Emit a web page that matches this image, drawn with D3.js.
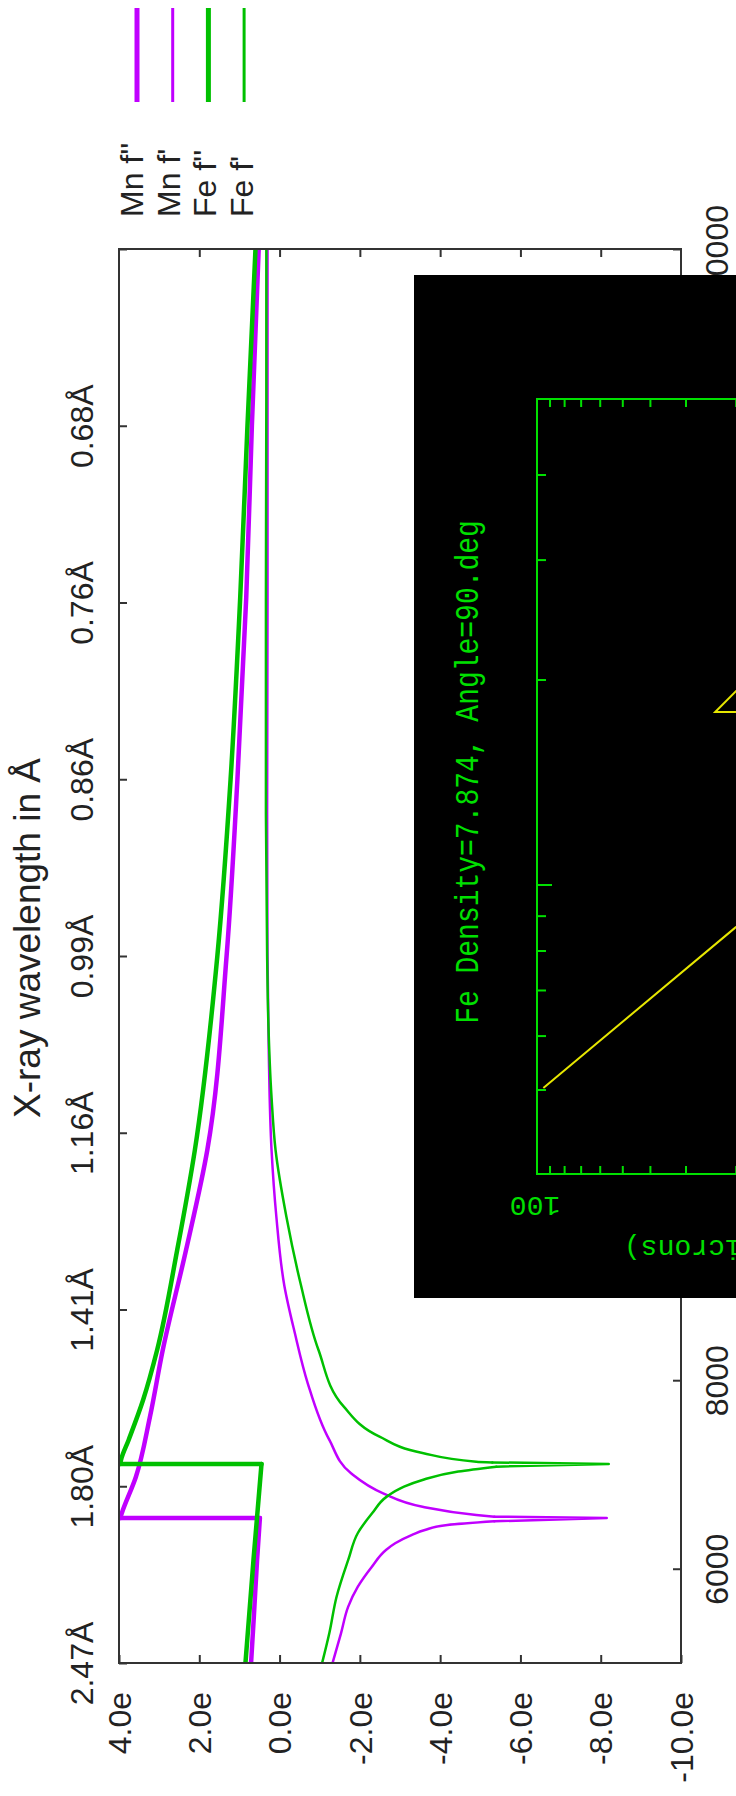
<!DOCTYPE html>
<html>
<head>
<meta charset="utf-8">
<script src="https://cdn.jsdelivr.net/npm/d3@7"></script>
<style>
  body { margin: 0; background: #fff; }
  svg { display: block; }
</style>
</head>
<body>
<div id="chart"></div>
<script>
// energy (eV) vs anomalous scattering factor (electrons)
const mnF2 = [[5000,0.71],[5500,0.64],[6093,0.56],[6539,0.49],[6539,3.97],[6602,3.92],[6973,3.58],[7610,3.23],[8320,2.91],[9381,2.33],[10442,1.80],[12500,1.32],[14375,1.05],[16308,0.83],[18125,0.69],[20000,0.52]];
const mnF1 = [[5000,-1.32],[5315,-1.53],[5598,-1.71],[5810,-1.95],[6022,-2.30],[6199,-2.65],[6270,-2.88],[6360,-3.30],[6411,-3.62],[6464,-4.18],[6503,-5.35],[6539,-8.15],[6552,-5.35],[6570,-4.90],[6658,-3.56],[6800,-2.58],[7012,-1.78],[7366,-1.24],[7970,-0.70],[8500,-0.38],[9000,-0.12],[9734,0.08],[10442,0.20],[11500,0.27],[12500,0.30],[14000,0.31],[16300,0.30],[18400,0.30],[20000,0.30]];
const feF2 = [[5000,0.85],[6093,0.65],[7112,0.45],[7112,3.97],[7154,3.95],[7366,3.76],[7790,3.40],[8320,3.05],[9381,2.55],[10442,2.11],[12500,1.55],[14375,1.22],[16308,0.98],[18125,0.80],[20000,0.60]];
const feF1 = [[5000,-1.06],[5318,-1.24],[5703,-1.42],[6093,-1.71],[6379,-1.95],[6591,-2.31],[6765,-2.67],[6871,-3.10],[6942,-3.56],[7031,-4.45],[7083,-5.40],[7112,-8.20],[7128,-5.30],[7136,-4.90],[7228,-3.56],[7401,-2.49],[7719,-1.60],[8320,-0.97],[9031,-0.52],[9734,-0.17],[10442,0.10],[11000,0.20],[11800,0.28],[12500,0.31],[14000,0.34],[16300,0.34],[18400,0.33],[20000,0.33]];

const seriesNames = ["Mn f''", "Mn f'", "Fe f''", "Fe f'"];
const seriesData = [mnF2, mnF1, feF2, feF1];
const seriesColors = ['#c000ff', '#c000ff', '#00c000', '#00c000'];
const seriesWidths = [4.5, 2.5, 4.5, 2.5];

const fTicks = [4, 2, 0, -2, -4, -6, -8, -10];
const fLabels = ['4.0e', '2.0e', '0.0e', '-2.0e', '-4.0e', '-6.0e', '-8.0e', '-10.0e'];
const energyTicks = [6000, 8000, 10000, 12000, 14000, 16000, 18000, 20000];
const lambdaTicks = [5000, 6875, 8750, 10625, 12500, 14375, 16250, 18125, 20000];
const lambdaLabels = ['2.47Å', '1.80Å', '1.41Å', '1.16Å', '0.99Å', '0.86Å', '0.76Å', '0.68Å', ''];

// inset picture (attenuation length plot)
const insetTitle = 'Fe Density=7.874, Angle=90.deg';
const insetAttenTicks = [90, 80, 70, 60, 50, 40, 30, 20];
const insetEnergyTicks = [5000, 6000, 7000, 8000, 9000, 10000, 20000, 30000, 40000];
const insetTrace1 = [[5035,95],[8650,20.2],[9500,15.3]];
const insetTrace2 = [[17950,15],[17950,23.7],[20900,16.5]];

const W = 736, H = 1796;
const box = { left: 119, right: 681, top: 249, bottom: 1663 };
const font = '"Liberation Sans", Arial, sans-serif';
const ink = '#222';

const svg = d3.select('#chart').append('svg')
  .attr('width', W).attr('height', H)
  .style('background', '#fff');

const yE = d3.scaleLinear().domain([5000, 20000]).range([box.bottom, box.top]);
const xF = d3.scaleLinear().domain([4, -10]).range([box.left, box.right]);

function styleAxis(g) {
  g.select('.domain').remove();
  g.attr('font-size', 32).attr('font-family', font).attr('color', '#333');
  g.selectAll('line').attr('stroke-width', 2);
  g.selectAll('text').attr('fill', ink).attr('x', 0).attr('y', 0).attr('dy', '0.35em');
}

// bottom: f values
const axB = svg.append('g').attr('transform', `translate(0,${box.bottom})`)
  .call(d3.axisBottom(xF).tickValues(fTicks).tickFormat((d, i) => fLabels[i]).tickSizeInner(-8).tickSizeOuter(0));
styleAxis(axB);
axB.selectAll('text').attr('text-anchor', 'end').attr('transform', 'translate(0,29) rotate(-90)');

// top mirror ticks
const axT = svg.append('g').attr('transform', `translate(0,${box.top})`)
  .call(d3.axisTop(xF).tickValues(fTicks.slice(1, -1)).tickFormat('').tickSizeInner(-8).tickSizeOuter(0));
styleAxis(axT);

// left: wavelength
const axL = svg.append('g').attr('transform', `translate(${box.left},0)`)
  .call(d3.axisLeft(yE).tickValues(lambdaTicks).tickFormat((d, i) => lambdaLabels[i]).tickSizeInner(-8).tickSizeOuter(0));
styleAxis(axL);
axL.selectAll('text').attr('text-anchor', 'middle').attr('transform', 'translate(-37,0) rotate(-90)');

// right: energy
const axR = svg.append('g').attr('transform', `translate(${box.right},0)`)
  .call(d3.axisRight(yE).tickValues(energyTicks).tickFormat(d3.format('d')).tickSizeInner(-8).tickSizeOuter(0));
styleAxis(axR);
axR.selectAll('text').attr('text-anchor', 'middle').attr('transform', 'translate(36,0) rotate(-90)');

// axis title
svg.append('text')
  .attr('transform', 'translate(27,938) rotate(-90)')
  .attr('dy', '0.35em')
  .attr('text-anchor', 'middle')
  .attr('font-family', font).attr('font-size', 37).attr('fill', ink)
  .text('X-ray wavelength in Å');

// curves: smooth on each side of the absorption edge, straight across it
function pieces(data) {
  let k = data.findIndex((d, i) => i > 0 && d[0] === data[i - 1][0]);
  if (k > 0) {
    return [
      { pts: data.slice(0, k), smooth: true },
      { pts: [data[k - 1], data[k]], smooth: false },
      { pts: data.slice(k), smooth: true }
    ];
  }
  k = d3.minIndex(data, d => d[1]);
  return [
    { pts: data.slice(0, k), smooth: true },
    { pts: data.slice(k - 1, k + 2), smooth: false },
    { pts: data.slice(k + 1), smooth: true }
  ];
}

svg.append('clipPath').attr('id', 'plotclip')
  .append('rect')
  .attr('x', box.left).attr('y', box.top)
  .attr('width', box.right - box.left).attr('height', box.bottom - box.top);

const smoothLine = d3.line().x(d => xF(d[1])).y(d => yE(d[0])).curve(d3.curveMonotoneY);
const straightLine = d3.line().x(d => xF(d[1])).y(d => yE(d[0]));

const curves = svg.append('g').attr('clip-path', 'url(#plotclip)');
seriesData.forEach((data, i) => {
  curves.append('g')
    .selectAll('path')
    .data(pieces(data))
    .join('path')
    .attr('d', p => (p.smooth ? smoothLine : straightLine)(p.pts))
    .attr('fill', 'none')
    .attr('stroke', seriesColors[i])
    .attr('stroke-width', seriesWidths[i])
    .attr('stroke-linejoin', 'round')
    .attr('stroke-linecap', 'round');
});

// frame
svg.append('rect')
  .attr('x', box.left).attr('y', box.top)
  .attr('width', box.right - box.left).attr('height', box.bottom - box.top)
  .attr('fill', 'none').attr('stroke', '#333').attr('stroke-width', 2);

// legend
const legend = svg.append('g');
seriesNames.forEach((name, i) => {
  legend.append('line')
    .attr('x1', 137 + i * 35.7).attr('x2', 137 + i * 35.7)
    .attr('y1', 8).attr('y2', 102)
    .attr('stroke', seriesColors[i]).attr('stroke-width', seriesWidths[i] + 0.5);
  legend.append('text')
    .attr('transform', `translate(${143 + i * 36.7},217) rotate(-90)`)
    .attr('font-family', font).attr('font-size', 32).attr('fill', ink)
    .text(name);
});

// inset: black picture with its own plot
const inset = svg.append('g');
const iBox = { left: 414, top: 275, bottom: 1298 };
const iFrame = { left: 537, top: 399, bottom: 1174, right: 760 };
const iGreen = '#00e000';
const mono = '"Liberation Mono", "Courier New", monospace';

inset.append('clipPath').attr('id', 'insetclip')
  .append('rect')
  .attr('x', iBox.left).attr('y', iBox.top)
  .attr('width', W - iBox.left).attr('height', iBox.bottom - iBox.top);

inset.append('rect')
  .attr('x', iBox.left).attr('y', iBox.top)
  .attr('width', W - iBox.left).attr('height', iBox.bottom - iBox.top)
  .attr('fill', '#000');

const iA = d3.scaleLog().domain([100, 10]).range([iFrame.left, 822]);
const iE = d3.scaleLog().domain([10000, 20000]).range([885, 680]);

const ip = inset.append('g').attr('clip-path', 'url(#insetclip)');

ip.append('path')
  .attr('d', `M${iFrame.right},${iFrame.top}H${iFrame.left}V${iFrame.bottom}H${iFrame.right}`)
  .attr('fill', 'none').attr('stroke', iGreen).attr('stroke-width', 2);

ip.append('g').selectAll('line').data(insetAttenTicks).join('line')
  .attr('x1', d => iA(d)).attr('x2', d => iA(d))
  .attr('y1', iFrame.bottom).attr('y2', iFrame.bottom - 8)
  .attr('stroke', iGreen).attr('stroke-width', 2);
ip.append('g').selectAll('line').data(insetAttenTicks).join('line')
  .attr('x1', d => iA(d)).attr('x2', d => iA(d))
  .attr('y1', iFrame.top).attr('y2', iFrame.top + 8)
  .attr('stroke', iGreen).attr('stroke-width', 2);
ip.append('g').selectAll('line').data(insetEnergyTicks).join('line')
  .attr('x1', iFrame.left).attr('x2', d => iFrame.left + (d === 10000 ? 15 : 9))
  .attr('y1', d => iE(d)).attr('y2', d => iE(d))
  .attr('stroke', iGreen).attr('stroke-width', 2);

const iLine = d3.line().x(d => iA(d[1])).y(d => iE(d[0]));
ip.append('g').selectAll('path').data([insetTrace1, insetTrace2]).join('path')
  .attr('d', iLine)
  .attr('fill', 'none').attr('stroke', '#e6e600').attr('stroke-width', 2);

ip.append('text')
  .attr('transform', 'translate(478,772) rotate(-90) scale(1,1.2)')
  .attr('text-anchor', 'middle')
  .attr('font-family', mono).attr('font-size', 28).attr('fill', iGreen)
  .text(insetTitle);
ip.append('text')
  .attr('transform', 'translate(535,1197) rotate(180)')
  .attr('text-anchor', 'middle')
  .attr('font-family', mono).attr('font-size', 28).attr('fill', iGreen)
  .text('100');
ip.append('text')
  .attr('transform', 'translate(624,1240) rotate(180)')
  .attr('text-anchor', 'end')
  .attr('font-family', mono).attr('font-size', 28).attr('fill', iGreen)
  .text('Atten Length (microns)');
</script>
</body>
</html>
